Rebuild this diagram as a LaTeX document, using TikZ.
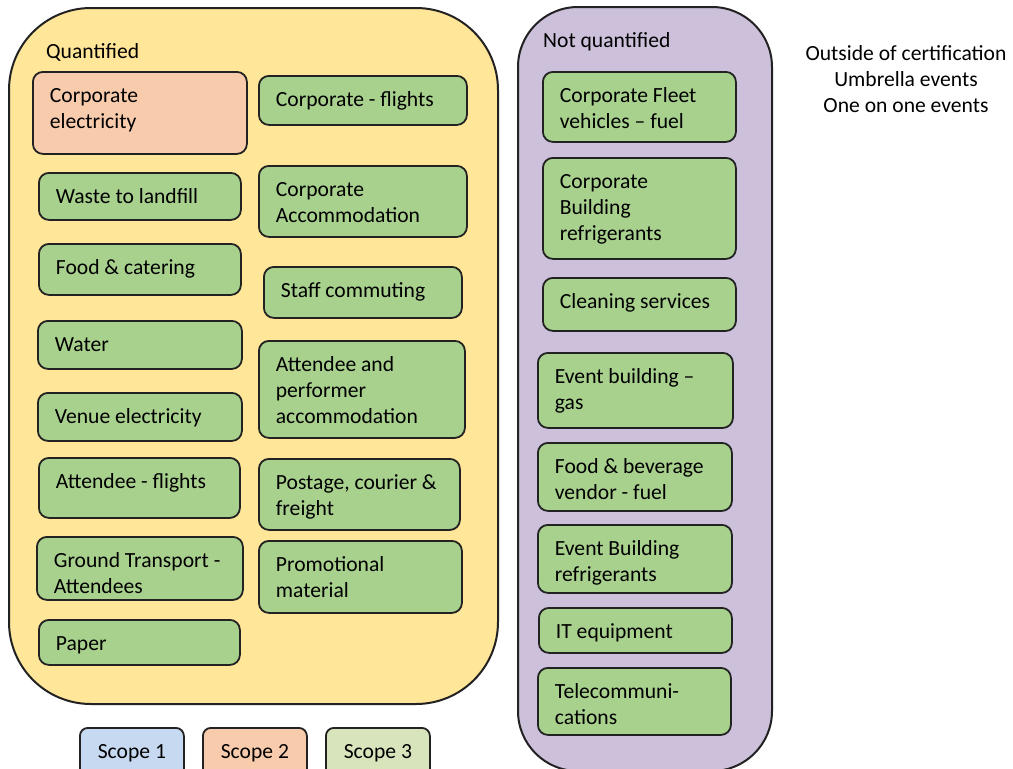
\documentclass[tikz,border=0pt]{standalone}
\usepackage{fontspec}
\setmainfont{Carlito}
\definecolor{linec}{HTML}{222222}
\definecolor{yellowc}{HTML}{FFE699}
\definecolor{purplec}{HTML}{CCC0DA}
\definecolor{greenc}{HTML}{A9D18E}
\definecolor{peachc}{HTML}{F8CBAD}
\definecolor{bluec}{HTML}{C6D9F0}
\definecolor{olivec}{HTML}{D8E4BC}
\tikzset{
  cont/.style={draw=linec, line width=2pt, anchor=north west, inner sep=0pt},
  itembox/.style={draw=linec, line width=1.8pt, rounded corners=10pt, anchor=north west, inner sep=0pt},
  lbl/.style={inner sep=0pt},
}
\newcommand{\bx}[7]{\node[itembox, fill=#6] (#1) at (#2,#3) {\parbox[c][#5pt][t]{#4pt}{\raggedright\leftskip=17pt\rule{0pt}{31pt}#7}};}
\newcommand{\sbx}[4]{\node[itembox, rounded corners=8pt, fill=#3] (#1) at (#2,727) {\parbox[c][50pt][t]{104pt}{\centering\rule{0pt}{31pt}#4}};}
\begin{document}
\begin{tikzpicture}[x=1pt, y=-1pt, font=\fontsize{21.6pt}{26pt}\selectfont]
\useasboundingbox (0,0) rectangle (1013,769);
\clip (0,0) rectangle (1013,769);
% containers
\node[cont, fill=yellowc, rounded corners=82pt, minimum width=489pt, minimum height=696pt] (quant) at (8,7) {};
\node[cont, fill=purplec, rounded corners=60pt, minimum width=254pt, minimum height=764pt] (notq) at (517,6) {};
% labels
\node[lbl, anchor=base west] (qlabel) at (46,58) {Quantified};
\node[lbl, anchor=base west] (nqlabel) at (543,47) {Not quantified};
\node[lbl, anchor=north] (outside) at (906,29) {\parbox[t]{300pt}{\centering\rule{0pt}{31pt}Outside of certification\\Umbrella events\\One on one events}};
% quantified, left column
\bx{celec}{32}{71}{214}{82}{peachc}{Corporate\\electricity}
\bx{waste}{38}{172}{202}{47}{greenc}{Waste to landfill}
\bx{food}{38}{243}{202}{51}{greenc}{Food \& catering}
\bx{water}{37}{320}{204}{48}{greenc}{Water}
\bx{venue}{37}{392}{204}{48}{greenc}{Venue electricity}
\bx{aflights}{38}{457}{201}{60}{greenc}{Attendee - flights}
\bx{ground}{36}{536}{206}{63}{greenc}{Ground Transport -\\Attendees}
\bx{paper}{38}{619}{201}{45}{greenc}{Paper}
% quantified, right column
\bx{cflights}{258}{75}{208}{49}{greenc}{Corporate - flights}
\bx{cacc}{258}{165}{208}{71}{greenc}{Corporate\\Accommodation}
\bx{staff}{263}{266}{198}{51}{greenc}{Staff commuting}
\bx{apacc}{258}{340}{206}{97}{greenc}{Attendee and\\performer\\accommodation}
\bx{postage}{258}{458}{201}{71}{greenc}{Postage, courier \&\\freight}
\bx{promo}{258}{540}{203}{72}{greenc}{Promotional\\material}
% not quantified
\bx{fleet}{542}{71}{193}{70}{greenc}{Corporate Fleet\\vehicles – fuel}
\bx{cbref}{542}{157}{193}{101}{greenc}{Corporate\\Building\\refrigerants}
\bx{clean}{542}{277}{193}{53}{greenc}{Cleaning services}
\bx{egas}{537}{352}{195}{75}{greenc}{Event building –\\gas}
\bx{fbv}{537}{442}{194}{68}{greenc}{Food \& beverage\\vendor - fuel}
\bx{ebref}{537}{524}{194}{68}{greenc}{Event Building\\refrigerants}
\bx{itequip}{538}{607}{193}{45}{greenc}{IT equipment}
\bx{tele}{537}{667}{193}{67}{greenc}{Telecommuni-\\cations}
% scope legend
\sbx{scopeone}{79}{bluec}{Scope 1}
\sbx{scopetwo}{202}{peachc}{Scope 2}
\sbx{scopethree}{325}{olivec}{Scope 3}
\end{tikzpicture}
\end{document}
